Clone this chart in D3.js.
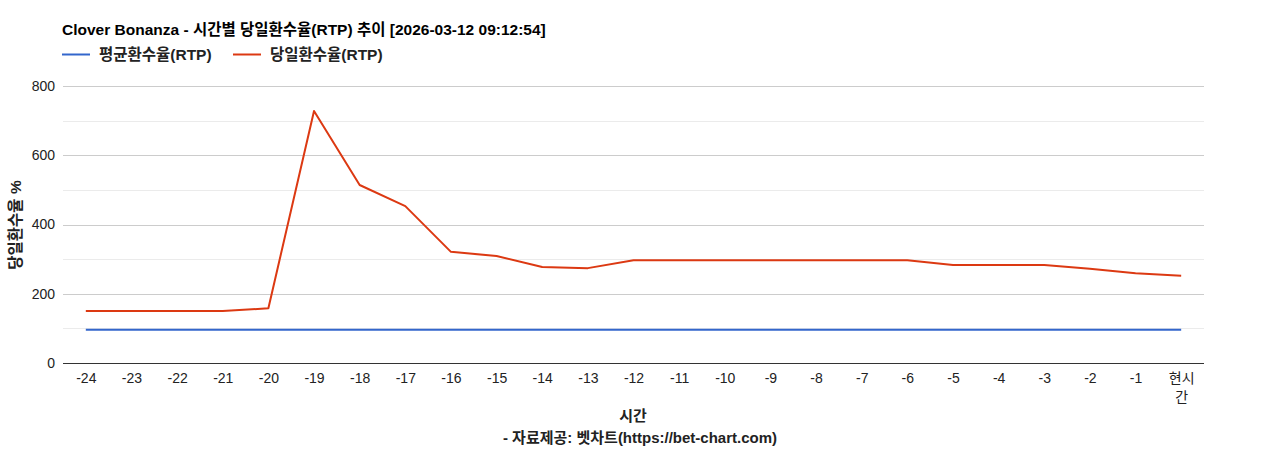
<!DOCTYPE html>
<html><head><meta charset="utf-8">
<script src="https://cdn.jsdelivr.net/npm/d3@7"></script>
<style>
body{margin:0;background:#fff;}
svg text{font-family:Arial,"Liberation Sans","Noto Sans CJK KR",sans-serif;}
</style></head>
<body><svg id="c" width="1268" height="450"></svg>
<script>
const categories = ["-24","-23","-22","-21","-20","-19","-18","-17","-16","-15","-14","-13","-12","-11","-10","-9","-8","-7","-6","-5","-4","-3","-2","-1","현시간"];
const avgRtp = [96,96,96,96,96,96,96,96,96,96,96,96,96,96,96,96,96,96,96,96,96,96,96,96,96];
const dayRtp = [150,150,150,150,158,728,514,453,321,309,277,274,297,297,297,297,297,297,297,283,283,283,272,259,252];
const yTicks = [0,200,400,600,800];
const yMinor = [100,300,500,700];
const seriesNames = ["평균환수율(RTP)","당일환수율(RTP)"];
const colors = ["#3366cc","#dc3912"];
const title = "Clover Bonanza - 시간별 당일환수율(RTP) 추이 [2026-03-12 09:12:54]";

const svg = d3.select("#c");
const L=63, R=1204, T=86, B=363;
const x = d3.scalePoint().domain(categories).range([L,R]).padding(0.5);
const y = d3.scaleLinear().domain([0,800]).range([B,T]);

// gridlines
svg.append("g").selectAll("line").data(yMinor).join("line")
  .attr("x1",L).attr("x2",R).attr("y1",d=>Math.round(y(d))+0.5).attr("y2",d=>Math.round(y(d))+0.5)
  .attr("stroke","#ebebeb").attr("stroke-width",1);
svg.append("g").selectAll("line").data(yTicks.filter(d=>d>0)).join("line")
  .attr("x1",L).attr("x2",R).attr("y1",d=>Math.round(y(d))+0.5).attr("y2",d=>Math.round(y(d))+0.5)
  .attr("stroke","#cccccc").attr("stroke-width",1);

// y axis labels
const yAxis = d3.axisLeft(y).tickValues(yTicks).tickSize(0).tickPadding(8);
const gy = svg.append("g").attr("transform",`translate(${L},0)`).call(yAxis);
gy.select(".domain").remove();
gy.selectAll("text").attr("font-size",14).attr("fill","#222").style("font-family","Arial,'Liberation Sans',sans-serif");

// x axis
const xAxis = d3.axisBottom(x).tickSize(0).tickPadding(10);
const gx = svg.append("g").attr("transform",`translate(0,${B})`).call(xAxis);
gx.select(".domain").attr("stroke","#333").attr("d",`M${L},0.5H${R}`);
gx.selectAll("text").attr("font-size",14).attr("fill","#222");
gx.selectAll(".tick").filter(d=>d==="현시간").select("text").each(function(d){
  const t=d3.select(this); t.text(null);
  t.append("tspan").attr("x",0).text(d.slice(0,2));
  t.append("tspan").attr("x",0).attr("dy","1.35em").text(d.slice(2));
});

// lines
const line = d3.line().x((d,i)=>x(categories[i])).y(d=>y(d));
[avgRtp, dayRtp].forEach((s,k)=>{
  svg.append("path").datum(s).attr("d",line).attr("fill","none")
    .attr("stroke",colors[k]).attr("stroke-width",2).attr("stroke-linejoin","round");
});

// title
svg.append("text").attr("x",62).attr("y",35).attr("font-size",15.5).attr("font-weight","bold").attr("fill","#000").text(title);

// legend
const lg = svg.append("g");
const lx=[62,233];
seriesNames.forEach((n,k)=>{
  lg.append("line").attr("x1",lx[k]).attr("x2",lx[k]+28).attr("y1",54.5).attr("y2",54.5).attr("stroke",colors[k]).attr("stroke-width",2);
  lg.append("text").attr("x",lx[k]+37).attr("y",60).attr("font-size",15.5).attr("font-weight","bold").attr("fill","#222").text(n);
});

// axis titles
svg.append("text").attr("transform","translate(21,225) rotate(-90)").attr("text-anchor","middle")
  .attr("font-size",15.5).attr("font-weight","bold").attr("fill","#222").text("당일환수율 %");
svg.append("text").attr("x",633).attr("y",421).attr("text-anchor","middle")
  .attr("font-size",15).attr("font-weight","bold").attr("fill","#222").text("시간");
svg.append("text").attr("x",640).attr("y",443).attr("text-anchor","middle")
  .attr("font-size",15).attr("font-weight","bold").attr("fill","#222").text("- 자료제공: 벳차트(https://bet-chart.com)");
</script></body></html>
